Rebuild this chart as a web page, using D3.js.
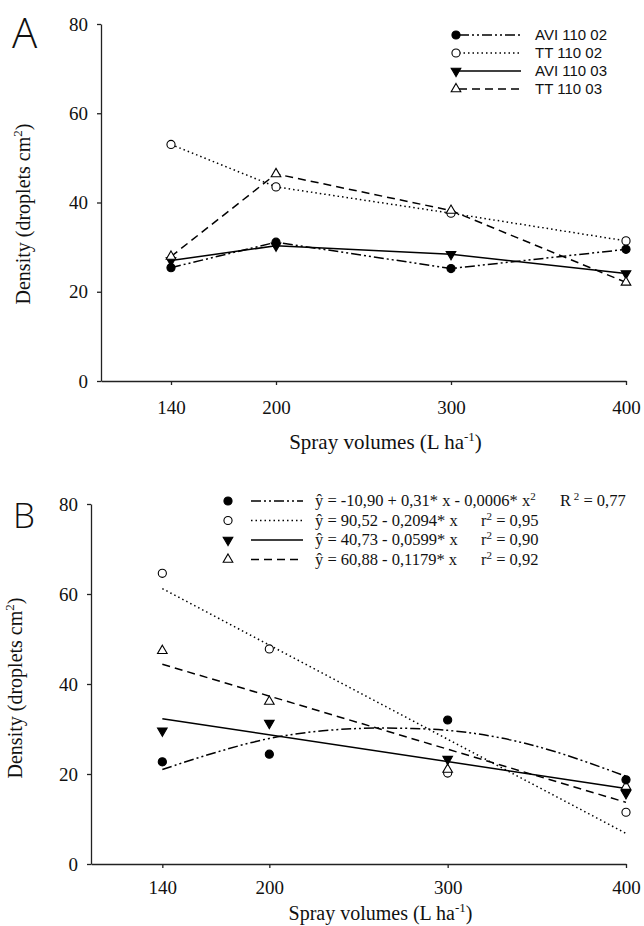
<!DOCTYPE html>
<html>
<head>
<meta charset="utf-8">
<script src="https://cdn.jsdelivr.net/npm/d3@7"></script>
<style>
  body { margin: 0; background: #fff; }
  svg { display: block; }
</style>
</head>
<body>
<svg id="chart"></svg>
<script>
// spray volumes (x) and series names
const volumes = [140, 200, 300, 400];
const seriesNames = ["AVI 110 02", "TT 110 02", "AVI 110 03", "TT 110 03"];
const yTicks = [0, 20, 40, 60, 80];

// panel A: measured means
const aviA02 = [25.4, 31.1, 25.2, 29.5];
const ttA02 = [53.0, 43.5, 37.6, 31.4];
const aviA03 = [27.0, 30.3, 28.4, 24.1];
const ttA03 = [27.9, 46.4, 38.2, 22.1];

// panel B: measured points
const aviB02 = [22.7, 24.4, 32.0, 18.7];
const ttB02 = [64.6, 47.8, 20.2, 11.5];
const aviB03 = [29.6, 31.3, 23.3, 15.7];
const ttB03 = [47.4, 36.1, 21.0, 17.2];

// panel B: fitted curves
const fitLineX = [140, 400];
const fitTtB02 = [61.2, 6.8];
const fitAviB03 = [32.3, 16.8];
const fitTtB03 = [44.4, 13.7];
const fitCurveX = [140, 170, 200, 230, 260, 300, 330, 360, 400];
const fitAviB02 = [21.0, 24.8, 27.9, 29.6, 30.2, 29.7, 28.0, 25.0, 19.5];

// panel B legend equations
const eqTexts = ["ŷ = -10,90 + 0,31* x - 0,0006* x", "ŷ = 90,52 - 0,2094* x", "ŷ = 40,73 - 0,0599* x", "ŷ = 60,88 - 0,1179* x"];
const eqSquared = [true, false, false, false];
const rLetters = ["R", "r", "r", "r"];
const rValues = ["0,77", "0,95", "0,90", "0,92"];

const styles = [
  { symbol: d3.symbolCircle, fill: "#000", rot: 0, dash: "10,3,2,3,2,3" },
  { symbol: d3.symbolCircle, fill: "#fff", rot: 0, dash: "1.5,3" },
  { symbol: d3.symbolTriangle, fill: "#000", rot: 180, dash: null },
  { symbol: d3.symbolTriangle, fill: "#fff", rot: 0, dash: "8,5" }
];

const serif = "'Liberation Serif', 'Times New Roman', serif";
const svg = d3.select("#chart").attr("width", 644).attr("height", 926);

function drawMarker(g, i, cx, cy) {
    const st = styles[i];
    const size = st.symbol === d3.symbolCircle ? 52 : 40;
    g.append("path")
        .attr("d", d3.symbol().type(st.symbol).size(size)())
        .attr("transform", `translate(${cx},${cy}) rotate(${st.rot})`)
        .attr("fill", st.fill)
        .attr("stroke", "#000")
        .attr("stroke-width", 1.1);
}

function drawAxes(g, x, y, pad, xLabelY, xLabelSize, yLabelX, yLabelY) {
    const yAxis = g.append("g")
        .attr("transform", `translate(${x.range()[0]},0)`)
        .call(d3.axisLeft(y).tickValues(yTicks).tickSize(4).tickSizeOuter(0).tickPadding(9));
    const xAxis = g.append("g")
        .attr("transform", `translate(0,${y.range()[0]})`)
        .call(d3.axisBottom(x).tickValues(volumes).tickSize(4).tickSizeOuter(0).tickPadding(pad));
    [xAxis, yAxis].forEach(a => {
        a.selectAll("path, line").attr("stroke", "#222").attr("stroke-width", 1.3);
        a.selectAll("text").attr("font-family", serif).attr("font-size", 19).attr("fill", "#111");
    });

    const xl = g.append("text")
        .attr("x", (x.range()[0] + x.range()[1]) / 2 + 22)
        .attr("y", xLabelY)
        .attr("text-anchor", "middle")
        .attr("font-family", serif)
        .attr("font-size", xLabelSize)
        .attr("fill", "#111");
    xl.append("tspan").text("Spray volumes (L ha");
    xl.append("tspan").attr("dy", -8).attr("font-size", 13).text("-1");
    xl.append("tspan").attr("dy", 8).text(")");

    const yl = g.append("text")
        .attr("transform", `translate(${yLabelX},${yLabelY}) rotate(-90)`)
        .attr("text-anchor", "middle")
        .attr("font-family", serif)
        .attr("font-size", 20)
        .attr("fill", "#111");
    yl.append("tspan").text("Density (droplets cm");
    yl.append("tspan").attr("dy", -8).attr("font-size", 13).text("2");
    yl.append("tspan").attr("dy", 8).text(")");
}

function panelLetter(txt, px, py, size) {
    svg.append("text")
        .attr("x", px).attr("y", py)
        .attr("font-family", "'DejaVu Sans ExtraLight', 'Open Sans', sans-serif")
        .attr("font-weight", 300)
        .attr("font-size", size)
        .attr("fill", "#111")
        .text(txt);
}

function CreatePanelA() {
    const g = svg.append("g");
    const x = d3.scaleLinear().domain([100, 400]).range([101, 626]);
    const y = d3.scaleLinear().domain([0, 80]).range([381, 24]);

    drawAxes(g, x, y, 16, 449, 21, 30, 214);
    panelLetter("A", 12, 48, 42);

    const all = [aviA02, ttA02, aviA03, ttA03];
    const line = d3.line().x(d => x(d[0])).y(d => y(d[1]));

    all.forEach((vals, i) => {
        const pts = volumes.map((v, j) => [v, vals[j]]);
        g.append("path")
            .datum(pts)
            .attr("fill", "none")
            .attr("stroke", "#000")
            .attr("stroke-width", 1.5)
            .attr("stroke-dasharray", styles[i].dash)
            .attr("d", line);
    });
    all.forEach((vals, i) => {
        volumes.forEach((v, j) => drawMarker(g, i, x(v), y(vals[j])));
    });

    // legend
    const leg = g.append("g");
    seriesNames.forEach((name, i) => {
        const cy = 35 + i * 18;
        leg.append("line")
            .attr("x1", 459).attr("x2", 521).attr("y1", cy).attr("y2", cy)
            .attr("stroke", "#000").attr("stroke-width", 1.5)
            .attr("stroke-dasharray", styles[i].dash);
        drawMarker(leg, i, 456, cy);
        leg.append("text")
            .attr("x", 535).attr("y", cy + 5)
            .attr("font-family", "'Liberation Sans', Arial, sans-serif")
            .attr("font-size", 15)
            .attr("fill", "#111")
            .text(name);
    });
}

function CreatePanelB() {
    const g = svg.append("g");
    const x = d3.scaleLinear().domain([100, 400]).range([91, 626]);
    const y = d3.scaleLinear().domain([0, 80]).range([864, 504]);

    drawAxes(g, x, y, 13, 920, 20, 22, 688);
    panelLetter("B", 13, 528, 35);

    const line = d3.line().x(d => x(d[0])).y(d => y(d[1]));
    const curve = d3.line().x(d => x(d[0])).y(d => y(d[1])).curve(d3.curveCatmullRom);

    const fits = [
        { xs: fitCurveX, ys: fitAviB02, gen: curve },
        { xs: fitLineX, ys: fitTtB02, gen: line },
        { xs: fitLineX, ys: fitAviB03, gen: line },
        { xs: fitLineX, ys: fitTtB03, gen: line }
    ];
    fits.forEach((f, i) => {
        g.append("path")
            .datum(f.xs.map((v, j) => [v, f.ys[j]]))
            .attr("fill", "none")
            .attr("stroke", "#000")
            .attr("stroke-width", 1.5)
            .attr("stroke-dasharray", styles[i].dash)
            .attr("d", f.gen);
    });

    const pts = [aviB02, ttB02, aviB03, ttB03];
    [1, 3, 2, 0].forEach(i => {
        volumes.forEach((v, j) => drawMarker(g, i, x(v), y(pts[i][j])));
    });

    // legend with equations
    const leg = g.append("g");
    eqTexts.forEach((eq, i) => {
        const cy = 501 + i * 19.5;
        drawMarker(leg, i, 228, cy);
        leg.append("line")
            .attr("x1", 251).attr("x2", 303).attr("y1", cy).attr("y2", cy)
            .attr("stroke", "#000").attr("stroke-width", 1.5)
            .attr("stroke-dasharray", styles[i].dash);
        const t = leg.append("text")
            .attr("x", 315).attr("y", cy + 5)
            .attr("font-family", serif)
            .attr("font-size", 16.5)
            .attr("fill", "#111");
        t.append("tspan").text(eq);
        if (eqSquared[i]) {
            t.append("tspan").attr("dy", -6).attr("font-size", 11).text("2");
        }
        const r = leg.append("text")
            .attr("x", i === 0 ? 560 : 481).attr("y", cy + 5)
            .attr("font-family", serif)
            .attr("font-size", 16.5)
            .attr("fill", "#111");
        r.append("tspan").text(rLetters[i]);
        r.append("tspan").attr("dy", -6).attr("font-size", 11).text(i === 0 ? " 2" : "2");
        r.append("tspan").attr("dy", 6).text(" = " + rValues[i]);
    });
}

CreatePanelA();
CreatePanelB();
</script>
</body>
</html>
